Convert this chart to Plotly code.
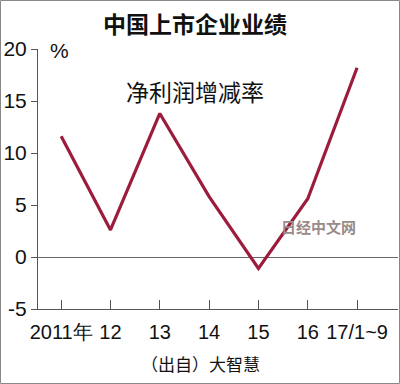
import plotly.graph_objects as go

categories = ["2011年", "12", "13", "14", "15", "16", "17/1~9"]
profit_growth = [11.6, 2.6, 13.8, 5.8, -1.1, 5.6, 18.2]
y_ticks = [-5, 0, 5, 10, 15, 20]
y_tick_labels = ["-5", "0", "5", "10", "15", "20"]

W, H = 400, 384
L, R, T, B = 38, 2, 49, 75
pw, ph = W - L - R, H - T - B

def px(x):
    return (x - L) / pw

def py(y):
    return (H - B - y) / ph

cjk = "Noto Sans CJK SC, sans-serif"
num = "Liberation Sans Narrow, Liberation Sans, Arial, sans-serif"

xs = list(range(len(categories)))
fig = go.Figure()
fig.add_trace(go.Scatter(x=xs, y=profit_growth, mode="lines",
                         line=dict(color="#9c1c3c", width=3.2), hoverinfo="skip"))

fig.update_layout(
    width=W, height=H,
    margin=dict(l=L, r=R, t=T, b=B),
    paper_bgcolor="white", plot_bgcolor="white",
    showlegend=False,
    xaxis=dict(range=[-0.47, 6.83], tickvals=xs, tickangle=0,
               ticktext=categories, ticks="inside", ticklen=9, tickcolor="#555",
               tickwidth=1, showgrid=False, zeroline=False, showline=True,
               linecolor="#555", linewidth=1, ticklabelstandoff=5,
               tickfont=dict(family=num, size=20, color="#111")),
    yaxis=dict(range=[-5, 20], tickvals=y_ticks, ticktext=y_tick_labels,
               ticks="outside", ticklen=6,
               tickcolor="#555", showgrid=False, zeroline=True, zerolinecolor="#666",
               zerolinewidth=1, showline=True, linecolor="#555", linewidth=1,
               tickfont=dict(family=num, size=21, color="#111")),
)

def label(text, x, y, font):
    fig.add_annotation(text=text, xref="paper", yref="paper", x=px(x), y=py(y),
                       xanchor="center", yanchor="middle", showarrow=False, font=font)

label("<b>中国上市企业业绩</b>", 195, 23, dict(family=cjk, size=23, color="#111"))
label("%", 59, 50, dict(family=num, size=21, color="#111"))
label("净利润增减率", 195, 91, dict(family=cjk, size=23, color="#111"))
label("（出自）大智慧", 200, 363, dict(family=cjk, size=17, color="#111"))
label("<b>日经中文网</b>", 318, 226, dict(family=cjk, size=15, color="#9a8a8a"))

fig.add_shape(type="rect", xref="paper", yref="paper",
              x0=px(0.5), x1=px(399.5), y0=py(383.5), y1=py(0.5),
              line=dict(color="#888", width=1))

fig.write_html("out.html", config={"displayModeBar": False},
               post_script="document.body.style.margin='0';")
